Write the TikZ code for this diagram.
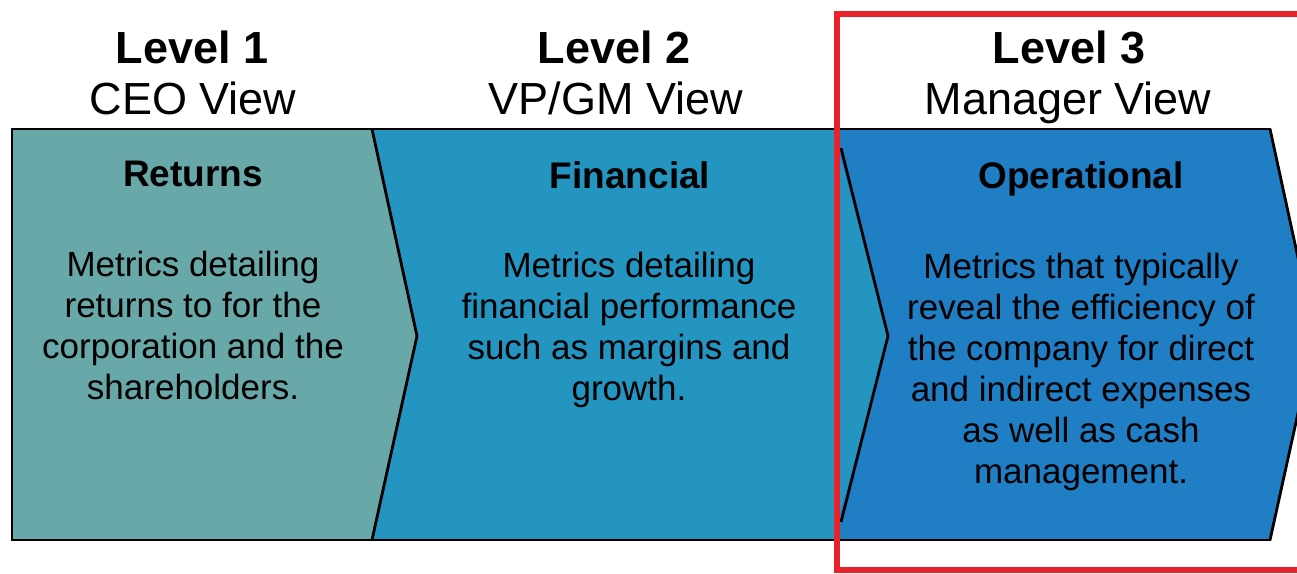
\documentclass[tikz,border=0pt]{standalone}
\usepackage{fontspec}
\setmainfont{Liberation Sans}

\definecolor{returnsteal}{HTML}{68A8A8}
\definecolor{financeblue}{HTML}{2494C0}
\definecolor{operblue}{HTML}{1F7EC4}
\definecolor{focusred}{HTML}{E8222B}

\tikzset{
  levelname/.style={anchor=base, font=\fontsize{45}{50}\selectfont\bfseries},
  viewname/.style={anchor=base, font=\fontsize{45}{50}\selectfont},
  stagehead/.style={anchor=base, font=\fontsize{37}{41}\selectfont\bfseries},
  % base of a multi-line node is its last line
  stagetext/.style={anchor=base, align=center, font=\fontsize{35}{41}\selectfont},
  stage/.style={draw=black, line width=1.8pt, line join=miter},
  tipline/.style={draw=black, line width=2.8pt},
}

\begin{document}
\begin{tikzpicture}[x=1pt, y=-1pt]
  \useasboundingbox (0,0) rectangle (1297,573);

  % the three chevrons
  \fill[financeblue]
    (372,129) -- (840,129) -- (840,540) -- (372,540) -- cycle;
  \filldraw[stage, fill=operblue]
    (838,129) -- (1270,129) -- (1315,336) -- (1270,540) -- (838,540) -- cycle;
  \fill[financeblue] (838,148) -- (888,336) -- (838,522) -- cycle;
  \draw[stage] (372,129) -- (838,129) (372,540) -- (838,540);
  \filldraw[stage, fill=returnsteal]
    (12,129) -- (372,129) -- (417,336) -- (372,540) -- (12,540) -- cycle;

  % heavier notch lines
  \draw[tipline] (372,129) -- (417,336) -- (372,540);
  \draw[tipline] (841,148) -- (888,336) -- (841,522);
  \draw[tipline] (1270,129) -- (1315,336) -- (1270,540);

  % column headers
  \node[levelname] (lvl1) at (192,63) {Level 1};
  \node[viewname]  (ceo)  at (193,114) {CEO View};
  \node[levelname] (lvl2) at (614,63) {Level 2};
  \node[viewname]  (vpgm) at (616,114) {VP/GM View};
  \node[levelname] (lvl3) at (1069,63) {Level 3};
  \node[viewname]  (mgr)  at (1068,114) {Manager View};

  % chevron contents
  \node[stagehead] (returns) at (193,186) {Returns};
  \node[stagetext] (retdesc) at (193,399)
    {Metrics detailing\\returns to for the\\corporation and the\\shareholders.};
  \node[stagehead] (financial) at (630,188) {Financial};
  \node[stagetext] (findesc) at (629,400)
    {Metrics detailing\\financial performance\\such as margins and\\growth.};
  \node[stagehead] (operational) at (1081,188) {Operational};
  \node[stagetext] (opdesc) at (1081,483)
    {Metrics that typically\\reveal the efficiency of\\the company for direct\\and indirect expenses\\as well as cash\\management.};

  % highlight round level 3
  \draw[focusred, line width=6pt] (837,13.5) rectangle (1330,570);
\end{tikzpicture}
\end{document}
